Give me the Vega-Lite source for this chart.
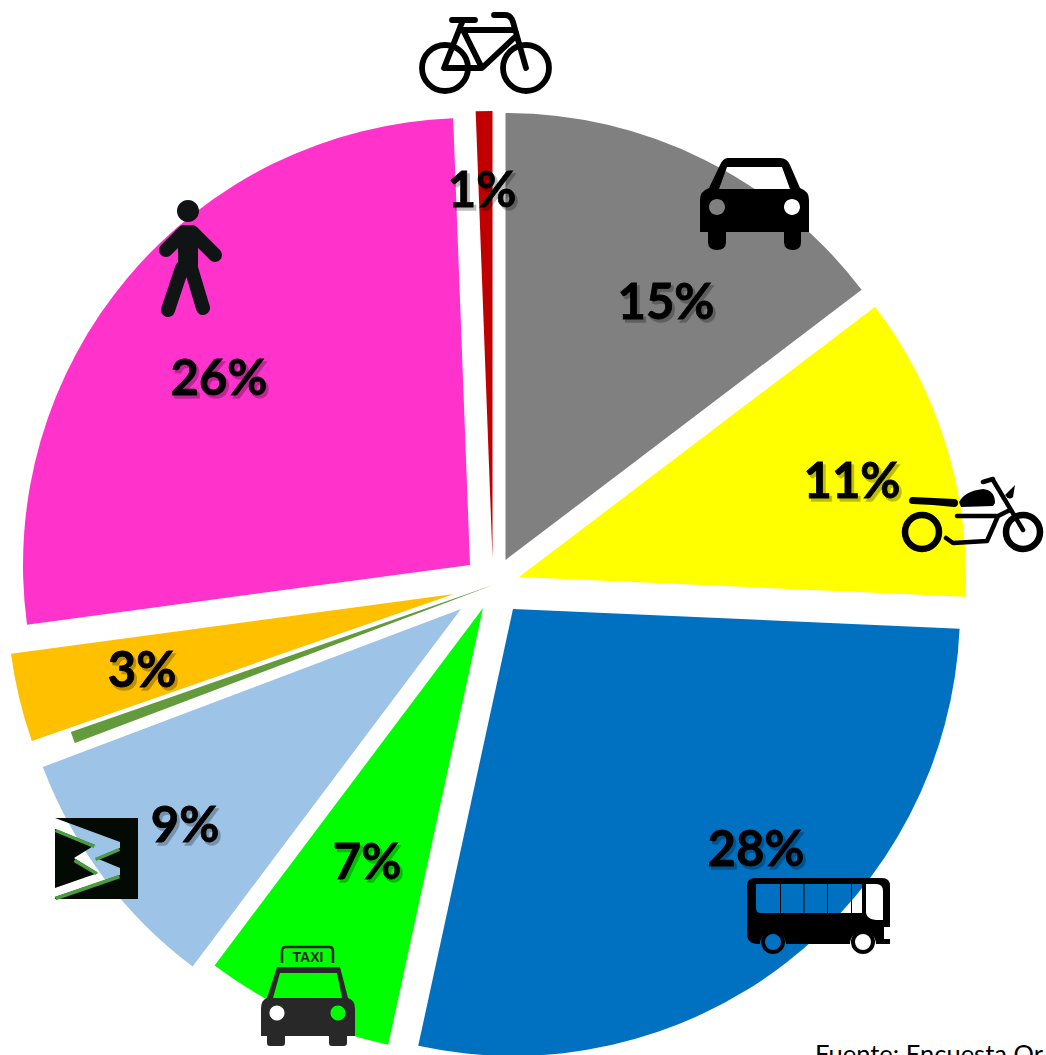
{
"$schema":"https://vega.github.io/schema/vega-lite/v6.json",
"width":1046,"height":1055,"padding":0,"autosize":{"type":"none"},"background":"white",
"config":{"view":{"stroke":null}},
"datasets":{
"tramos":[
{"modo":"Auto","orden":1,"pct":14.67,"cx":505.5,"cy":560},
{"modo":"Moto","orden":2,"pct":11.03,"cx":519,"cy":577},
{"modo":"Bus","orden":3,"pct":27.7,"cx":513,"cy":609},
{"modo":"Taxi","orden":4,"pct":6.85,"cx":483,"cy":608},
{"modo":"Transmilenio","orden":5,"pct":9.0,"cx":461,"cy":609},
{"modo":"Otro","orden":6,"pct":0.42,"cx":493,"cy":585},
{"modo":"Intermunicipal","orden":7,"pct":3.2,"cx":454,"cy":594},
{"modo":"A pie","orden":8,"pct":26.53,"cx":470,"cy":565},
{"modo":"Bicicleta","orden":9,"pct":0.6,"cx":492.5,"cy":558}
],
"rotulos":[
{"txt":"15%","x":666,"y":304},
{"txt":"11%","x":852,"y":483},
{"txt":"28%","x":756,"y":851},
{"txt":"7%","x":367,"y":864},
{"txt":"9%","x":185,"y":827},
{"txt":"3%","x":142,"y":672},
{"txt":"26%","x":219,"y":380},
{"txt":"1%","x":482,"y":192}
],
"iconos":[
{"icono":"bici","x":485,"y":52},
{"icono":"auto","x":755,"y":204},
{"icono":"moto","x":973,"y":515},
{"icono":"bus","x":818,"y":911},
{"icono":"taxi","x":308,"y":1005},
{"icono":"transm","x":96.5,"y":858.5},
{"icono":"peaton","x":188,"y":260}
]
},
"layer":[
{"data":{"name":"tramos"},
 "transform":[{"stack":"pct","sort":[{"field":"orden","order":"ascending"}],"as":["a0","a1"]}],
 "mark":{"type":"arc","outerRadius":447,"innerRadius":0},
 "encoding":{
  "x":{"field":"cx","type":"quantitative","axis":null,"scale":{"domain":[0,1046],"range":[0,1046],"nice":false,"zero":false}},
  "y":{"field":"cy","type":"quantitative","axis":null,"scale":{"domain":[0,1055],"range":[0,1055],"nice":false,"zero":false}},
  "theta":{"field":"a0","type":"quantitative","stack":null,"scale":{"domain":[0,100],"range":[0,6.2832]}},
  "theta2":{"field":"a1"},
  "color":{"field":"modo","type":"nominal","legend":null,"scale":{"domain":["Auto","Moto","Bus","Taxi","Transmilenio","Otro","Intermunicipal","A pie","Bicicleta"],"range":["#808080","#FFFF00","#0070C0","#00FF00","#9DC3E6","#639A3C","#FFC000","#FF33CC","#C00000"]}}
 }},
{"data":{"name":"rotulos"},
 "mark":{"type":"text","font":"Lato","fontWeight":"bold","fontSize":49,"align":"center","baseline":"middle","dx":2.5,"dy":2.5,"fill":"#000000","opacity":0.25,"stroke":"#000000","strokeWidth":1.5},
 "encoding":{"x":{"field":"x","type":"quantitative","axis":null},"y":{"field":"y","type":"quantitative","axis":null},"text":{"field":"txt"}}},
{"data":{"name":"rotulos"},
 "mark":{"type":"text","font":"Lato","fontWeight":"bold","fontSize":49,"align":"center","baseline":"middle","fill":"#000000","stroke":"#000000","strokeWidth":0.8},
 "encoding":{"x":{"field":"x","type":"quantitative","axis":null},"y":{"field":"y","type":"quantitative","axis":null},"text":{"field":"txt"}}},
{"data":{"name":"iconos"},"transform":[{"filter":"datum.icono=='bici'"}],
 "mark":{"type":"point","size":4,"opacity":1,"filled":false,"stroke":"#000000","strokeWidth":5.8,"strokeCap":"round","strokeJoin":"round",
  "shape":"M-63,16 A23,23 0 1,0 -17,16 A23,23 0 1,0 -63,16 Z M18,16 A23,23 0 1,0 64,16 A23,23 0 1,0 18,16 Z M9,-37 L20,-37 Q26,-37 28,-30 L41,16 M-33,-32 L-10,-32 M-22,-32 L-41,16 L-3,16 L30,-15 M-22,-22 L27,-22 M-22,-22 L-3,16"},
 "encoding":{"x":{"field":"x","type":"quantitative","axis":null},"y":{"field":"y","type":"quantitative","axis":null}}},
{"data":{"name":"iconos"},"transform":[{"filter":"datum.icono=='auto'"}],
 "mark":{"type":"point","size":4,"opacity":1,"filled":true,"fill":"#000000","strokeWidth":0,
  "shape":"M-27,-46 L25,-46 Q32,-46 35,-39 L45,-16 Q54,-13 54,-4 L54,28 L46,28 L46,38 Q46,46 38,46 Q29,46 29,38 L29,28 L-29,28 L-29,38 Q-29,46 -38,46 Q-47,46 -47,38 L-47,28 L-55,28 L-55,-4 Q-55,-13 -46,-16 L-35,-39 Q-32,-46 -27,-46 Z M-28,-37 L-36,-15 L35,-15 L27,-37 Z M-46,3 A8,8 0 1,0 -30,3 A8,8 0 1,0 -46,3 Z M29,3 A8,8 0 1,0 45,3 A8,8 0 1,0 29,3 Z"},
 "encoding":{"x":{"field":"x","type":"quantitative","axis":null},"y":{"field":"y","type":"quantitative","axis":null}}},
{"data":{"name":"iconos"},"transform":[{"filter":"datum.icono=='moto'"}],
 "mark":{"type":"point","size":4,"opacity":1,"filled":true,"fill":"#000000","strokeWidth":0,
  "shape":"M-60,-18 L-19,-16 Q-15,-16 -15,-12 Q-15,-8 -19,-8 L-40,-10 L-60,-11 Q-64,-11 -64,-14 Q-64,-18 -60,-18 Z M-14,-13 Q-8,-24 10,-26 Q22,-25 22,-12 L20,-9 L-12,-8 Z M32,-20 L42,-30 L40,-18 Q36,-14 32,-20 Z"},
 "encoding":{"x":{"field":"x","type":"quantitative","axis":null},"y":{"field":"y","type":"quantitative","axis":null}}},
{"data":{"name":"iconos"},"transform":[{"filter":"datum.icono=='moto'"}],
 "mark":{"type":"point","size":4,"opacity":1,"filled":false,"stroke":"#000000","strokeWidth":6.5,
  "shape":"M-68,17 A17,17 0 1,0 -34,17 A17,17 0 1,0 -68,17 Z M33,17 A17,17 0 1,0 67,17 A17,17 0 1,0 33,17 Z"},
 "encoding":{"x":{"field":"x","type":"quantitative","axis":null},"y":{"field":"y","type":"quantitative","axis":null}}},
{"data":{"name":"iconos"},"transform":[{"filter":"datum.icono=='moto'"}],
 "mark":{"type":"point","size":4,"opacity":1,"filled":false,"stroke":"#000000","strokeWidth":4.5,"strokeCap":"round","strokeJoin":"round",
  "shape":"M-16,1 L25,1 L14,26 L-20,28 L-27,23 M25,1 L37,-5 M20,-35 L50,15 M10,-33 L20,-36"},
 "encoding":{"x":{"field":"x","type":"quantitative","axis":null},"y":{"field":"y","type":"quantitative","axis":null}}},
{"data":{"name":"iconos"},"transform":[{"filter":"datum.icono=='bus'"}],
 "mark":{"type":"point","size":4,"opacity":1,"filled":true,"fill":"#000000","strokeWidth":0,
  "shape":"M-63,-33 L64,-33 Q72,-33 72,-25 L72,16 L66,16 L66,28 L72,28 L72,33 L58,33 A13,13 0 0,0 32,33 L-32,33 A13,13 0 0,0 -58,33 L-60,33 Q-71,33 -71,22 L-71,-25 Q-71,-33 -63,-33 Z M-62,-27 L-62,-3 Q-62,2 -57,2 L-38,2 L-38,-27 Z M-37,-27 L-37,2 L-14.5,2 L-14.5,-27 Z M-13.5,-27 L-13.5,2 L9,2 L9,-27 Z M10,-27 L10,2 L33,2 L33,-27 Z M34,-27 L34,2 L44,2 L44,-27 Z M48,-27 L48,2 Q49,8 58,9 L65,9 L65,-20 Q65,-27 58,-27 Z"},
 "encoding":{"x":{"field":"x","type":"quantitative","axis":null},"y":{"field":"y","type":"quantitative","axis":null}}},
{"data":{"name":"iconos"},"transform":[{"filter":"datum.icono=='bus'"}],
 "mark":{"type":"point","size":4,"opacity":1,"filled":false,"stroke":"#000000","strokeWidth":4,
  "shape":"M-55,31 A10,10 0 1,0 -35,31 A10,10 0 1,0 -55,31 Z M35,31 A10,10 0 1,0 55,31 A10,10 0 1,0 35,31 Z"},
 "encoding":{"x":{"field":"x","type":"quantitative","axis":null},"y":{"field":"y","type":"quantitative","axis":null}}},
{"data":{"name":"iconos"},"transform":[{"filter":"datum.icono=='taxi'"}],
 "mark":{"type":"point","size":4,"opacity":1,"filled":true,"fill":"#282828","strokeWidth":0,
  "shape":"M-31,-38 L32,-38 L40,-7 Q47,-5 47,4 L47,31 L39,31 L39,38 Q39,41 36,41 L24,41 Q21,41 21,38 L21,31 L-23,31 L-23,38 Q-23,41 -26,41 L-38,41 Q-41,41 -41,38 L-41,31 L-47,31 L-47,4 Q-47,-5 -41,-7 Z M-28,-32 L-35,-7 L34,-7 L29,-32 Z M-38.5,8 A7.5,7.5 0 1,0 -23.5,8 A7.5,7.5 0 1,0 -38.5,8 Z M22.5,8 A7.5,7.5 0 1,0 37.5,8 A7.5,7.5 0 1,0 22.5,8 Z"},
 "encoding":{"x":{"field":"x","type":"quantitative","axis":null},"y":{"field":"y","type":"quantitative","axis":null}}},
{"data":{"name":"iconos"},"transform":[{"filter":"datum.icono=='taxi'"}],
 "mark":{"type":"point","size":4,"opacity":1,"filled":false,"stroke":"#282828","strokeWidth":2.5,
  "shape":"M-26,-42 L-26,-54 Q-26,-58 -22,-58 L21,-58 Q25,-58 25,-54 L25,-42"},
 "encoding":{"x":{"field":"x","type":"quantitative","axis":null},"y":{"field":"y","type":"quantitative","axis":null}}},
{"data":{"values":[{"txt":"TAXI","x":308,"y":958}]},
 "mark":{"type":"text","font":"Liberation Sans","fontWeight":"bold","fontSize":14,"align":"center","baseline":"middle","fill":"#282828"},
 "encoding":{"x":{"field":"x","type":"quantitative","axis":null},"y":{"field":"y","type":"quantitative","axis":null},"text":{"field":"txt"}}},
{"data":{"name":"iconos"},"transform":[{"filter":"datum.icono=='transm'"}],
 "mark":{"type":"point","size":4,"opacity":1,"filled":true,"fill":"#030a03","strokeWidth":0,
  "shape":"M-41.5,-40.5 L41.5,-40.5 L41.5,40.5 L-41.5,40.5 Z M-41.5,-40.5 L-41.5,-29.5 L-1.5,-13.5 L-22.5,-0.5 L1.5,14.5 L-41.5,29.5 L-41.5,38.5 L23.5,16.5 L23.5,9.5 L-0.5,-0.5 L23.5,-10.5 L23.5,-16.5 Z"},
 "encoding":{"x":{"field":"x","type":"quantitative","axis":null},"y":{"field":"y","type":"quantitative","axis":null}}},
{"data":{"name":"iconos"},"transform":[{"filter":"datum.icono=='transm'"}],
 "mark":{"type":"point","size":4,"opacity":1,"filled":false,"stroke":"#4a9e3f","strokeWidth":3.5,
  "shape":"M-41,-28 L-2,-12 M-1,1 L23,-9 M-41,40 L23,18 M-22,2 L0,15"},
 "encoding":{"x":{"field":"x","type":"quantitative","axis":null},"y":{"field":"y","type":"quantitative","axis":null}}},
{"data":{"name":"iconos"},"transform":[{"filter":"datum.icono=='peaton'"}],
 "mark":{"type":"point","size":4,"opacity":1,"filled":true,"fill":"#111414","strokeWidth":0,
  "shape":"M-11,-49 A11,11 0 1,1 11,-49 A11,11 0 1,1 -11,-49 Z M-10,-28 Q-10,-35 0,-35 Q10,-35 10,-28 L10,12 L-10,12 Z"},
 "encoding":{"x":{"field":"x","type":"quantitative","axis":null},"y":{"field":"y","type":"quantitative","axis":null}}},
{"data":{"name":"iconos"},"transform":[{"filter":"datum.icono=='peaton'"}],
 "mark":{"type":"point","size":4,"opacity":1,"filled":false,"stroke":"#111414","strokeWidth":14,"strokeCap":"round","strokeJoin":"round",
  "shape":"M-22,-10 L-4,-28 M4,-28 L27,-5 M-20,50 L-6,8 M15,48 L3,8"},
 "encoding":{"x":{"field":"x","type":"quantitative","axis":null},"y":{"field":"y","type":"quantitative","axis":null}}},
{"data":{"values":[{"txt":"Fuente: Encuesta Or","x":815,"y":1063}]},
 "mark":{"type":"text","font":"Lato","fontSize":25.5,"align":"left","baseline":"alphabetic","fill":"#000000"},
 "encoding":{"x":{"field":"x","type":"quantitative","axis":null},"y":{"field":"y","type":"quantitative","axis":null},"text":{"field":"txt"}}}
]
}
